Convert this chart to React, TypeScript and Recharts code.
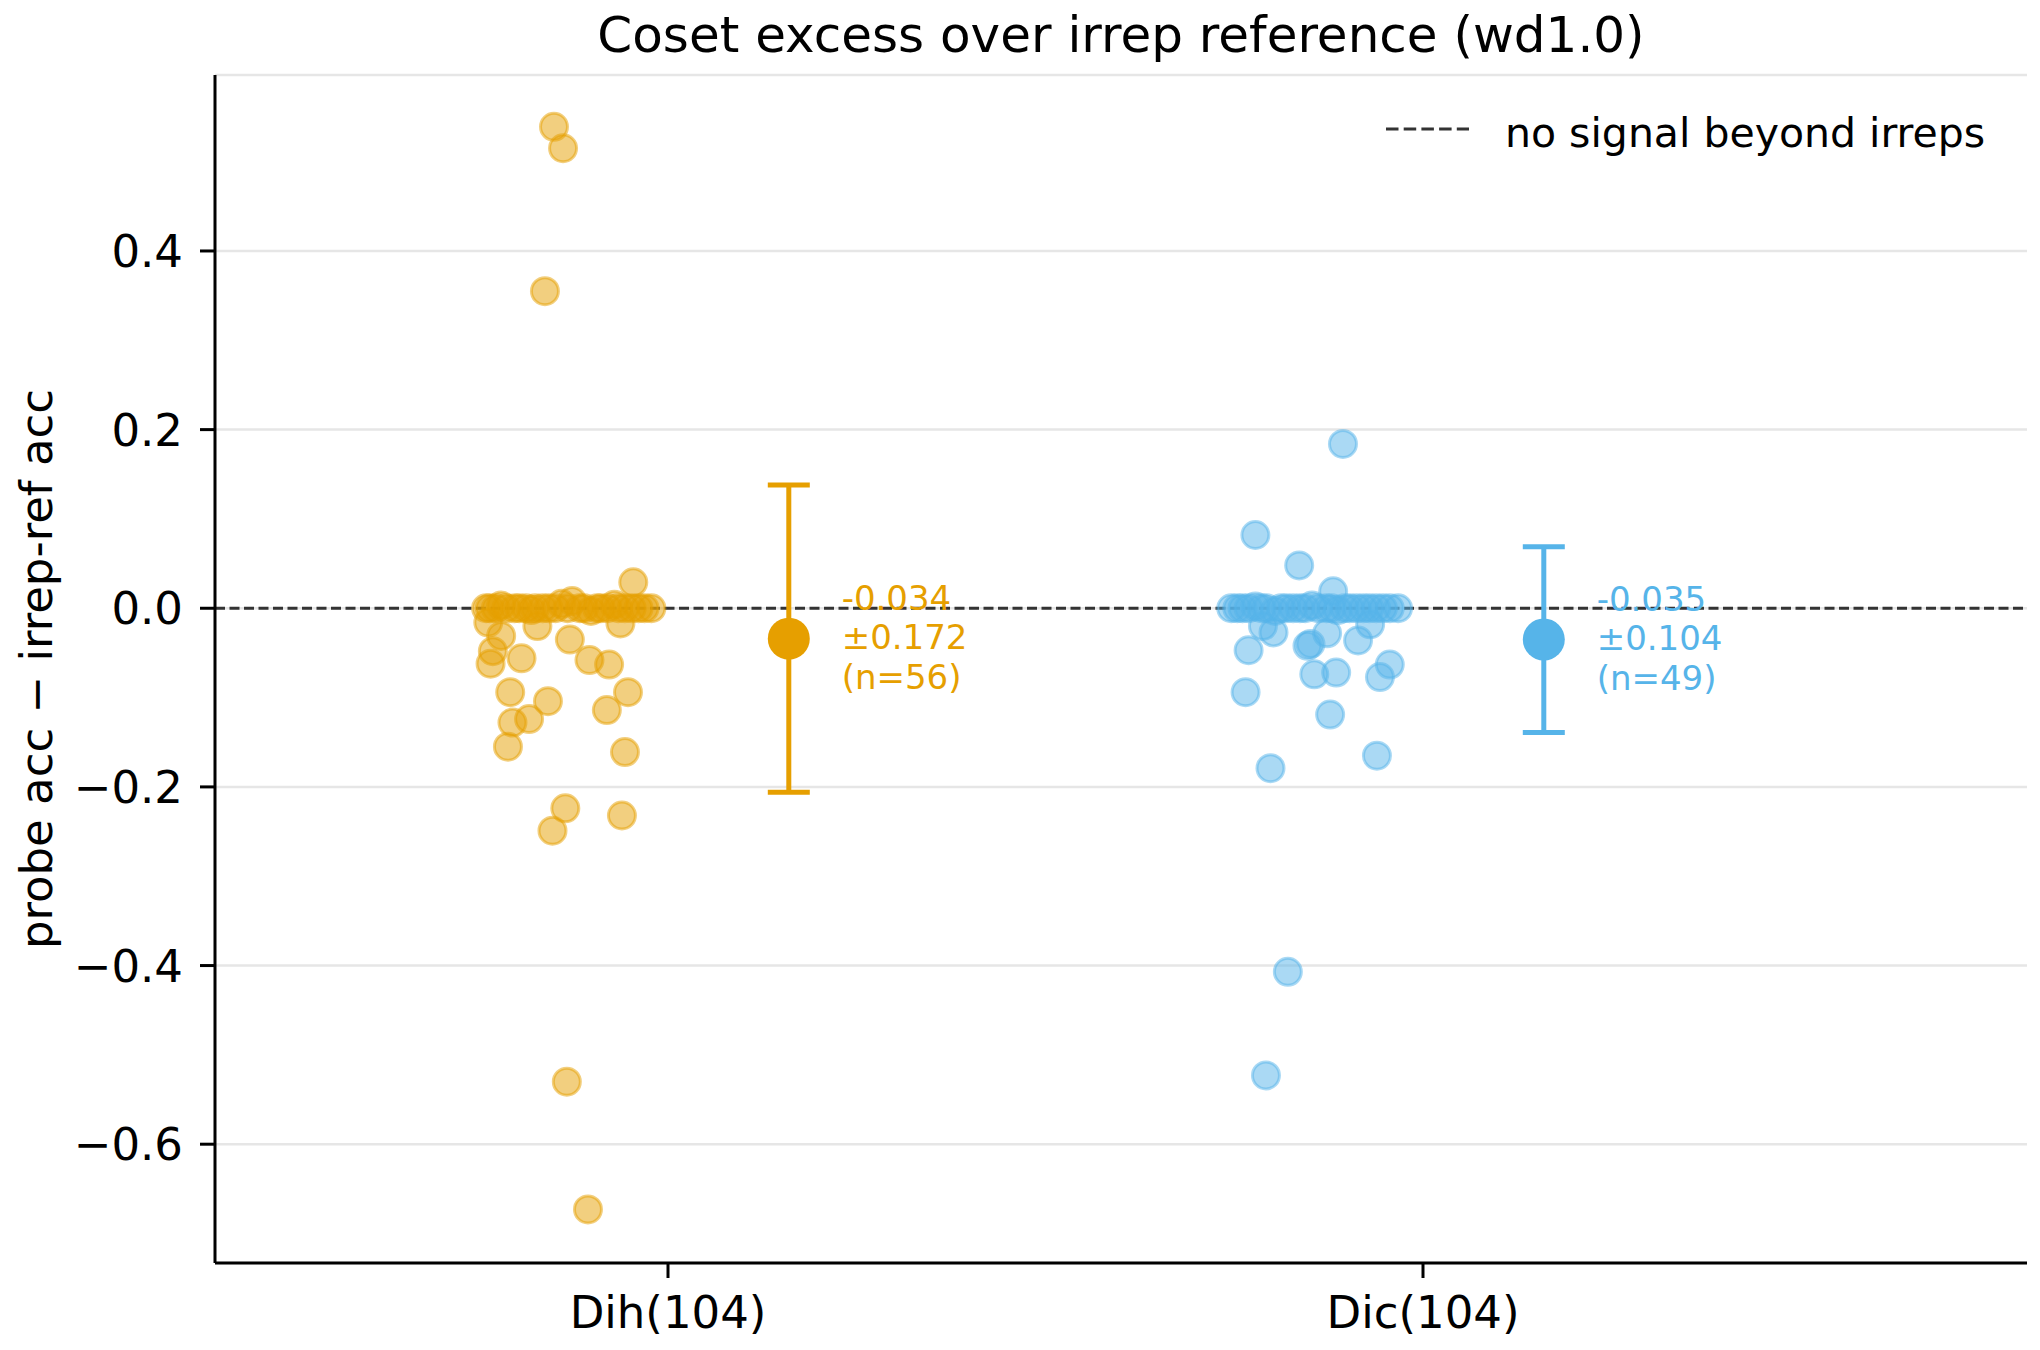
import React from 'react'
import { ScatterChart, Scatter, XAxis, YAxis, CartesianGrid, ReferenceLine, ErrorBar, Label } from 'recharts'

const groups = ['Dih(104)', 'Dic(104)']
const colors = ['#E69F00', '#56B4E9']
const yTicks = [-0.6, -0.4, -0.2, 0, 0.2, 0.4]

// per-run excess (probe acc - irrep-ref acc), with the horizontal jitter used in the strip
const dihValues = [
  0.539, 0.515, 0.355, 0.029, -0.016, -0.031, -0.020, -0.035, -0.017, -0.048,
  -0.062, -0.056, -0.058, -0.063, -0.094, -0.104, -0.094, -0.114, -0.128, -0.124,
  -0.155, -0.161, -0.224, -0.232, -0.249, -0.530, -0.673,
  0, 0, 0, 0.003, 0, 0, 0, 0, -0.002, 0,
  0, 0, 0, 0.005, 0, 0.008, 0, 0, -0.003, 0,
  0, 0, 0.004, 0, 0, 0, 0, 0, 0,
]
const dihJitter = [
  -0.151, -0.139, -0.163, -0.046, -0.238, -0.221, -0.173, -0.130, -0.063, -0.232,
  -0.235, -0.194, -0.104, -0.078, -0.209, -0.159, -0.053, -0.081, -0.206, -0.184,
  -0.212, -0.057, -0.136, -0.061, -0.153, -0.134, -0.106,
  -0.241, -0.236, -0.228, -0.221, -0.214, -0.203, -0.197, -0.188, -0.181, -0.176,
  -0.166, -0.158, -0.149, -0.141, -0.133, -0.127, -0.117, -0.111, -0.102, -0.094,
  -0.089, -0.080, -0.071, -0.066, -0.057, -0.048, -0.039, -0.031, -0.022,
]
const dicValues = [
  0.184, 0.082, 0.048, 0.019, -0.020, -0.027, -0.028, -0.018, -0.047, -0.040,
  -0.042, -0.036, -0.074, -0.072, -0.063, -0.077, -0.094, -0.119, -0.165, -0.179,
  -0.407, -0.523,
  0, 0, 0, 0, 0.002, 0, 0, -0.003, 0, 0,
  0, 0, 0, 0.003, 0, 0, 0, -0.002, 0, 0,
  0, 0, 0, 0, 0, 0, 0,
]
const dicJitter = [
  -0.106, -0.222, -0.164, -0.119, -0.212, -0.198, -0.127, -0.070, -0.231, -0.149,
  -0.153, -0.086, -0.144, -0.115, -0.044, -0.057, -0.235, -0.123, -0.061, -0.202,
  -0.179, -0.208,
  -0.254, -0.246, -0.239, -0.231, -0.222, -0.214, -0.207, -0.196, -0.188, -0.181,
  -0.172, -0.163, -0.156, -0.147, -0.139, -0.128, -0.121, -0.113, -0.104, -0.097,
  -0.088, -0.079, -0.071, -0.062, -0.053, -0.044, -0.033,
]

const means = [-0.034, -0.035]
const stds = [0.172, 0.104]
const counts = [56, 49]

const SUMMARY_OFFSET = 0.16
const TEXT_OFFSET = 0.07

const strips = [
  dihValues.map((y, i) => ({ x: 0 + dihJitter[i], y })),
  dicValues.map((y, i) => ({ x: 1 + dicJitter[i], y })),
]
const summaries = means.map((m, i) => [{ x: i + SUMMARY_OFFSET, y: m, err: stds[i] }])
const notes = means.map((m, i) => [{
  x: i + SUMMARY_OFFSET + TEXT_OFFSET,
  y: m,
  lines: [m.toFixed(3), '\u00b1' + stds[i].toFixed(3), `(n=${counts[i]})`],
}])

const fmtY = (v: number) => (v < 0 ? '\u2212' : '') + Math.abs(v).toFixed(1)

const dot = (color: string) => (p: any) => (
  <circle cx={p.cx} cy={p.cy} r={13.5} fill={color} fillOpacity={0.5} stroke={color} strokeOpacity={0.5} strokeWidth={3} />
)
const bigDot = (color: string) => (p: any) => <circle cx={p.cx} cy={p.cy} r={21} fill={color} />
const note = (color: string) => (p: any) => (
  <text x={p.cx} y={p.cy} fill={color} fontSize={34} textAnchor="start">
    <tspan x={p.cx} dy={-29}>{p.payload.lines[0]}</tspan>
    <tspan x={p.cx} dy={39.5}>{p.payload.lines[1]}</tspan>
    <tspan x={p.cx} dy={39.5}>{p.payload.lines[2]}</tspan>
  </text>
)

const LegendBox = () => (
  <svg width={650} height={60} style={{ position: 'absolute', top: 100, left: 1380 }}>
    <line x1={6} x2={89} y1={29} y2={29} stroke="#333" strokeWidth={3} strokeDasharray="12.5 5.2" />
    <text x={125} y={47} fontSize={41} fill="#000">no signal beyond irreps</text>
  </svg>
)

export default function App() {
  return (
    <div style={{ position: 'absolute', left: 0, top: 0, width: 2040, height: 1350, background: '#fff', fontFamily: 'DejaVu Sans, sans-serif' }}>
      <div style={{ position: 'absolute', top: 10, left: 215, width: 1812, textAlign: 'center', fontSize: 50, lineHeight: '50px', color: '#000' }}>
        Coset excess over irrep reference (wd1.0)
      </div>
      <ScatterChart width={2040} height={1350} margin={{ top: 75, right: 13, bottom: 0, left: 0 }}>
        <CartesianGrid horizontal vertical={false} stroke="#e6e6e6" strokeWidth={2.5} />
        <XAxis
          type="number"
          dataKey="x"
          domain={[-0.6, 1.8]}
          ticks={[0, 1]}
          tickFormatter={(v: number) => groups[v]}
          height={87}
          tickSize={15}
          tickMargin={18}
          axisLine={{ stroke: '#000', strokeWidth: 3 }}
          tickLine={{ stroke: '#000', strokeWidth: 3 }}
          tick={{ fill: '#000', fontSize: 45 }}
        />
        <YAxis
          type="number"
          dataKey="y"
          domain={[-0.733, 0.597]}
          ticks={yTicks}
          tickFormatter={fmtY}
          width={215}
          tickSize={15}
          tickMargin={17}
          axisLine={{ stroke: '#000', strokeWidth: 3 }}
          tickLine={{ stroke: '#000', strokeWidth: 3 }}
          tick={{ fill: '#000', fontSize: 45 }}
        >
          <Label
            content={(props: any) => {
              const vb = props.viewBox || { x: 0, y: 75, width: 215, height: 1188 }
              const cx = vb.x + 36
              const cy = vb.y + vb.height / 2
              return (
                <text x={cx} y={cy} transform={`rotate(-90, ${cx}, ${cy})`} textAnchor="middle" dominantBaseline="central" fontSize={45} fill="#000">
                  probe acc {'\u2212'} irrep-ref acc
                </text>
              )
            }}
          />
        </YAxis>
        <ReferenceLine y={0} stroke="#333" strokeWidth={3} strokeDasharray="10 4.5" />
        {strips.map((pts, i) => (
          <Scatter key={`strip-${i}`} data={pts} shape={dot(colors[i])} isAnimationActive={false} />
        ))}
        {summaries.map((pts, i) => (
          <Scatter key={`sum-${i}`} data={pts} shape={bigDot(colors[i])} isAnimationActive={false}>
            <ErrorBar dataKey="err" direction="y" width={21} strokeWidth={5} stroke={colors[i]} isAnimationActive={false} />
          </Scatter>
        ))}
        {notes.map((pts, i) => (
          <Scatter key={`note-${i}`} data={pts} shape={note(colors[i])} isAnimationActive={false} />
        ))}
      </ScatterChart>
      <LegendBox />
    </div>
  )
}
